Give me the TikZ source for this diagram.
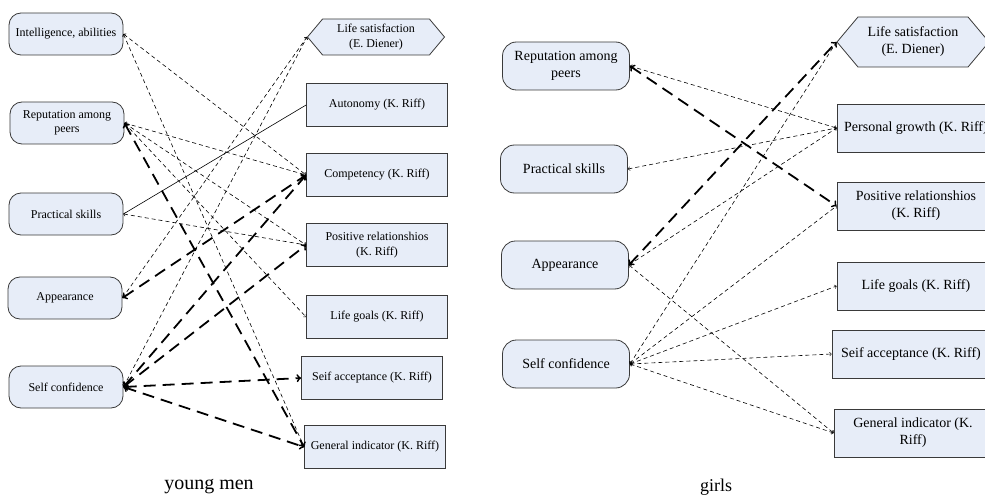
\documentclass[tikz,border=0pt]{standalone}
\usepackage{fontspec}
\setmainfont{Liberation Serif}
\usetikzlibrary{shapes.symbols}
\definecolor{boxfill}{RGB}{231,237,248}
\definecolor{boxline}{RGB}{58,58,58}
\tikzset{
  factor/.style={draw=boxline, line width=0.8pt, fill=boxfill, rounded corners=12pt,
    minimum width=114pt, minimum height=42pt, inner sep=2pt, align=center,
    font=\fontsize{12}{14.5}\selectfont},
  measure/.style={draw=boxline, line width=0.8pt, fill=boxfill,
    minimum width=141pt, minimum height=43pt, inner sep=2pt, align=center,
    font=\fontsize{12}{14.5}\selectfont},
  bigfactor/.style={factor, rounded corners=14pt, minimum width=127pt, minimum height=48pt,
    font=\fontsize{14}{17}\selectfont},
  bigmeasure/.style={measure, minimum width=158pt, minimum height=48pt,
    font=\fontsize{14}{17}\selectfont},
  octa/.style={shape=signal, signal to=east and west, signal pointer angle=100,
    draw=boxline, line width=0.8pt, fill=boxfill, inner sep=1pt, align=center},
  thinlink/.style={<->, dash pattern=on 4pt off 3pt, line width=0.6pt},
  boldlink/.style={<->, dash pattern=on 12pt off 7pt, line width=1.8pt},
  solidlink/.style={line width=0.6pt},
  caption/.style={font=\fontsize{20}{24}\selectfont}
}
\begin{document}
\begin{tikzpicture}[x=1pt, y=-1pt]
  \useasboundingbox (0,0) rectangle (985,500);
  \clip (0,0) rectangle (985,500);

  % young men
  \node[factor] (m-int)  at (66,34)  {Intelligence, abilities};
  \node[factor] (m-rep)  at (67,123) {Reputation among\\peers};
  \node[factor] (m-prac) at (66,214) {Practical skills};
  \node[factor] (m-app)  at (65,298) {Appearance};
  \node[factor] (m-self) at (66,387) {Self confidence};

  \node[octa, minimum width=137pt, minimum height=36pt,
        font=\fontsize{12}{15}\selectfont] (m-ls) at (376,37) {Life satisfaction\\(E. Diener)};
  \node[measure] (m-auto)  at (377,105) {Autonomy (K. Riff)};
  \node[measure] (m-comp)  at (377,175) {Competency (K. Riff)};
  \node[measure] (m-rel)   at (377,245) {Positive relationshios\\(K. Riff)};
  \node[measure] (m-goals) at (377,317) {Life goals (K. Riff)};
  \node[measure] (m-acc)   at (372,378) {Seif acceptance (K. Riff)};
  \node[measure] (m-gen)   at (375,447) {General indicator (K. Riff)};

  \draw[thinlink] (m-int.east) -- (m-comp.west);
  \draw[thinlink] (m-int.east) -- (m-gen.west);
  \draw[thinlink] (m-rep.east) -- (m-comp.west);
  \draw[thinlink] (m-rep.east) -- (m-rel.west);
  \draw[thinlink] (m-rep.east) -- (m-goals.west);
  \draw[boldlink] (m-rep.east) -- (m-gen.west);
  \draw[solidlink] (m-prac.east) -- (m-auto.west);
  \draw[thinlink] (m-prac.east) -- (m-rel.west);
  \draw[thinlink] (m-app.east) -- (m-ls.west);
  \draw[boldlink] (m-app.east) -- (m-comp.west);
  \draw[thinlink] (m-self.east) -- (m-ls.west);
  \draw[boldlink] (m-self.east) -- (m-comp.west);
  \draw[boldlink] (m-self.east) -- (m-rel.west);
  \draw[boldlink] (m-self.east) -- (m-acc.west);
  \draw[boldlink] (m-self.east) -- (m-gen.west);

  \node[caption] (m-cap) at (209,487) {young men};

  % girls
  \node[bigfactor] (g-rep)  at (566,66)  {Reputation among\\peers};
  \node[bigfactor] (g-prac) at (564,169) {Practical skills};
  \node[bigfactor] (g-app)  at (565,265) {Appearance};
  \node[bigfactor] (g-self) at (566,364) {Self confidence};

  \node[octa, minimum width=152pt, minimum height=50pt,
        font=\fontsize{14}{17}\selectfont] (g-ls) at (913,42) {Life satisfaction\\(E. Diener)};
  \node[bigmeasure] (g-grow)  at (916,128) {Personal growth (K. Riff)};
  \node[bigmeasure] (g-rel)   at (916,206) {Positive relationshios\\(K. Riff)};
  \node[bigmeasure] (g-goals) at (916,286) {Life goals (K. Riff)};
  \node[bigmeasure] (g-acc)   at (911,354) {Seif acceptance (K. Riff)};
  \node[bigmeasure] (g-gen)   at (913,433) {General indicator (K.\\Riff)};

  \draw[thinlink] (g-rep.east) -- (g-grow.west);
  \draw[boldlink] (g-rep.east) -- (g-rel.west);
  \draw[thinlink] (g-prac.east) -- (g-grow.west);
  \draw[boldlink] (g-app.east) -- (g-ls.west);
  \draw[thinlink] (g-app.east) -- (g-grow.west);
  \draw[thinlink] (g-app.east) -- (g-gen.west);
  \draw[thinlink] (g-self.east) -- (g-ls.west);
  \draw[thinlink] (g-self.east) -- (g-rel.west);
  \draw[thinlink] (g-self.east) -- (g-goals.west);
  \draw[thinlink] (g-self.east) -- (g-acc.west);
  \draw[thinlink] (g-self.east) -- (g-gen.west);

  \node[caption, font=\fontsize{18}{22}\selectfont] (g-cap) at (716,487) {girls};
\end{tikzpicture}
\end{document}
